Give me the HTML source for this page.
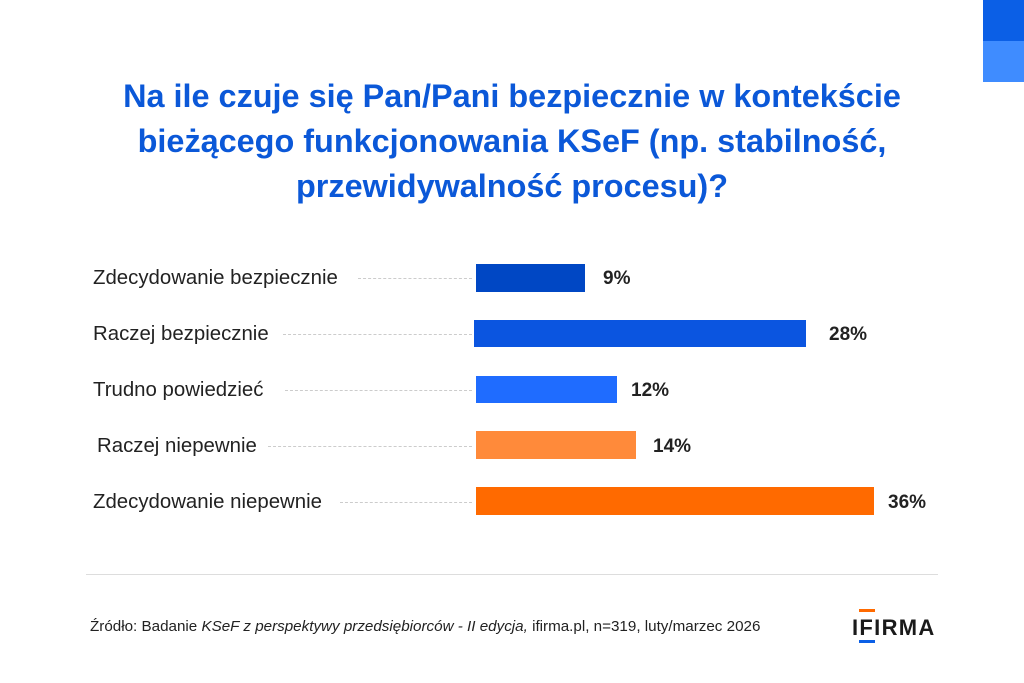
<!DOCTYPE html>
<html><head><meta charset="utf-8"><style>
body{margin:0;width:1024px;height:683px;background:#fff;position:relative;overflow:hidden;font-family:"Liberation Sans",sans-serif}
.a{position:absolute}
.t{left:0;width:1024px;top:74px;text-align:center;color:#0b58d8;font-weight:bold;font-size:32.4px;line-height:45px}
.l{font-size:20.4px;color:#222;left:93px}
.d{border-top:1px dashed #ccc;height:0}
.v{font-size:19px;font-weight:bold;color:#222}
</style></head><body>
<div class="a" style="left:983px;top:0;width:41px;height:41px;background:#0b5fe6"></div>
<div class="a" style="left:983px;top:41px;width:41px;height:41px;background:#3f8cff"></div>
<div class="a t">Na ile czuje się Pan/Pani bezpiecznie w kontekście<br>bieżącego funkcjonowania KSeF (np. stabilność,<br>przewidywalność procesu)?</div>

<div class="a l" style="top:267px">Zdecydowanie bezpiecznie</div>
<div class="a d" style="left:358px;width:114px;top:278px"></div>
<div class="a" style="left:476px;top:264px;width:109px;height:28px;background:#0047c4"></div>
<div class="a v" style="left:603px;top:268px">9%</div>

<div class="a l" style="top:323px">Raczej bezpiecznie</div>
<div class="a d" style="left:283px;width:189px;top:334px"></div>
<div class="a" style="left:474px;top:320px;width:332px;height:27px;background:#0b55e0"></div>
<div class="a v" style="left:829px;top:324px">28%</div>

<div class="a l" style="top:379px">Trudno powiedzieć</div>
<div class="a d" style="left:285px;width:187px;top:390px"></div>
<div class="a" style="left:476px;top:376px;width:141px;height:27px;background:#1f6cff"></div>
<div class="a v" style="left:631px;top:380px">12%</div>

<div class="a l" style="top:435px;left:97px">Raczej niepewnie</div>
<div class="a d" style="left:268px;width:204px;top:446px"></div>
<div class="a" style="left:476px;top:431px;width:160px;height:28px;background:#ff8a3a"></div>
<div class="a v" style="left:653px;top:436px">14%</div>

<div class="a l" style="top:491px">Zdecydowanie niepewnie</div>
<div class="a d" style="left:340px;width:132px;top:502px"></div>
<div class="a" style="left:476px;top:487px;width:398px;height:28px;background:#ff6a00"></div>
<div class="a v" style="left:888px;top:492px">36%</div>

<div class="a" style="left:86px;top:574px;width:852px;height:1px;background:#ddd"></div>
<div class="a" style="left:90px;top:618px;font-size:15.2px;color:#222">Źródło: Badanie <i>KSeF z perspektywy przedsiębiorców - II edycja,</i> ifirma.pl, n=319, luty/marzec 2026</div>
<div class="a" style="left:859px;top:609px;width:16px;height:3px;background:#ff6a00"></div>
<div class="a" style="left:852px;top:615px;font-size:22px;font-weight:bold;letter-spacing:1.3px;color:#1a1a1a">IFIRMA</div>
<div class="a" style="left:859px;top:640px;width:16px;height:3px;background:#0b5fe6"></div>
</body></html>
